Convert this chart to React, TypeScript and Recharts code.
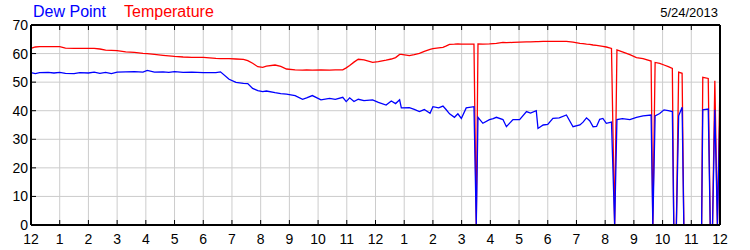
import { LineChart, Line, XAxis, YAxis, CartesianGrid } from 'recharts'

// hours since midnight
const hours = [
    0, 0.15, 0.3, 0.6, 0.8, 1.0, 1.2, 1.5, 1.7, 2.0,
    2.2, 2.4, 2.6, 2.8, 3.0, 3.3, 3.6, 3.9, 4.05, 4.3,
    4.6, 4.8, 5.0, 5.3, 5.6, 6.0, 6.44, 6.6, 6.9, 7.14,
    7.4, 7.55, 7.72, 7.9, 8.07, 8.2, 8.5, 8.7, 8.9, 9.2,
    9.46, 9.6, 9.8, 10.1, 10.4, 10.6, 10.86, 10.98, 11.1, 11.25,
    11.4, 11.6, 11.9, 12.1, 12.37, 12.55, 12.7, 12.84, 12.9, 13.18,
    13.35, 13.53, 13.7, 13.9, 14.0, 14.2, 14.35, 14.45, 14.58, 14.75,
    14.87, 14.99, 15.16, 15.43, 15.51, 15.57, 15.74, 15.97, 16.1, 16.21,
    16.44, 16.56, 16.79, 17.02, 17.26, 17.4, 17.6, 17.66, 17.84, 18.0,
    18.18, 18.4, 18.65, 18.88, 19.12, 19.23, 19.35, 19.46, 19.58, 19.7,
    19.81, 19.92, 20.04, 20.22, 20.33, 20.41, 20.6, 20.86, 21.09, 21.32,
    21.6, 21.66, 21.74, 21.9, 22.05, 22.2, 22.34, 22.39, 22.48, 22.56,
    22.68, 22.74, 23.36, 23.4, 23.59, 23.66, 23.74, 23.82, 23.91, 24,
]

const temperature = [
    61.8, 62.3, 62.4, 62.4, 62.4, 62.4, 61.9, 61.8, 61.8, 61.8,
    61.8, 61.6, 61.2, 61.1, 61.0, 60.6, 60.4, 60.1, 60.0, 59.7,
    59.4, 59.2, 59.0, 58.8, 58.7, 58.7, 58.3, 58.2, 58.2, 58.1,
    58.0, 57.5, 56.6, 55.4, 55.2, 55.6, 56.0, 55.5, 54.6, 54.3,
    54.2, 54.3, 54.2, 54.3, 54.2, 54.3, 54.3, 55.0, 55.8, 57.0,
    58.0, 57.8, 56.9, 57.2, 57.7, 58.1, 58.6, 59.7, 59.7, 59.3,
    59.6, 60.1, 60.8, 61.5, 61.7, 62.0, 62.2, 62.6, 63.2, 63.3,
    63.4, 63.3, 63.3, 63.3, 0, 63.4, 63.3, 63.4, 63.5, 63.6,
    63.9, 63.8, 63.9, 64.0, 64.1, 64.1, 64.2, 64.2, 64.3, 64.3,
    64.3, 64.3, 64.3, 64.0, 63.6, 63.5, 63.3, 63.2, 63.0, 62.9,
    62.7, 62.5, 62.3, 61.8, 0, 61.3, 60.6, 59.6, 58.6, 58.2,
    57.4, 0, 56.9, 56.6, 56.0, 55.4, 54.8, 0, 0, 53.5,
    53.1, 0, 0, 51.7, 51.3, 0, 0, 50.5, 0, 50.7,
]

const dewPoint = [
    53.3, 53.0, 53.3, 53.4, 53.2, 53.4, 53.1, 53.0, 53.3, 53.2,
    53.5, 53.1, 53.4, 53.0, 53.5, 53.6, 53.7, 53.5, 54.1, 53.5,
    53.6, 53.4, 53.7, 53.4, 53.5, 53.3, 53.3, 53.6, 51.0, 49.9,
    49.6, 49.5, 47.8, 47.0, 46.7, 46.9, 46.3, 46.0, 45.8, 45.3,
    44.0, 44.5, 45.3, 43.8, 44.3, 44.0, 44.7, 43.2, 44.5, 43.2,
    44.0, 43.5, 43.8, 42.9, 42.0, 43.4, 42.5, 43.8, 41.0, 41.1,
    40.5, 39.7, 40.4, 39.1, 41.4, 41.0, 41.6, 40.5, 38.9, 37.7,
    38.9, 37.3, 41.0, 41.4, 0, 37.7, 35.6, 36.9, 37.2, 37.7,
    36.9, 34.4, 36.9, 36.9, 39.7, 39.2, 40.0, 33.8, 35.0, 35.2,
    37.3, 37.5, 38.5, 34.4, 35.0, 36.0, 37.5, 36.5, 34.4, 34.5,
    37.0, 37.3, 35.6, 36.0, 0, 36.9, 37.2, 36.9, 37.7, 38.2,
    38.5, 0, 38.2, 39.0, 40.3, 40.0, 39.7, 0, 0, 38.2,
    41.2, 0, 0, 40.3, 40.6, 0, 0, 40.3, 0, 40.8,
]

const hourTicks = [0, 1, 2, 3, 4, 5, 6, 7, 8, 9, 10, 11, 12, 13, 14, 15, 16, 17, 18, 19, 20, 21, 22, 23, 24]
const valueTicks = [0, 10, 20, 30, 40, 50, 60, 70]

const data = hours.map((h, i) => ({ h, temp: temperature[i], dew: dewPoint[i] }))

const FONT = '"Liberation Sans", Arial, sans-serif'
const TICK = { fontSize: 14, fill: '#000', fontFamily: FONT }
const AXIS_LINE = { stroke: '#000', strokeWidth: 2 }

const hourLabel = (h: number) => String(h % 12 === 0 ? 12 : h % 12)

export default function App() {
    return (
        <div style={{ position: 'absolute', left: 0, top: 0, width: 750, height: 250, background: '#fff', fontFamily: FONT }}>
            <div style={{ position: 'absolute', left: 33, top: 3, fontSize: 16, color: '#0000ff' }}>Dew Point</div>
            <div style={{ position: 'absolute', left: 124, top: 3, fontSize: 16, color: '#ff0000' }}>Temperature</div>
            <div style={{ position: 'absolute', right: 32, top: 5, fontSize: 13, color: '#000' }}>5/24/2013</div>
            <LineChart width={750} height={250} data={data} margin={{ top: 24, right: 0, bottom: 0, left: 0 }}>
                <CartesianGrid stroke="#cccccc" />
                <XAxis
                    dataKey="h" type="number" domain={[0, 24]} ticks={hourTicks}
                    tickFormatter={hourLabel} height={25}
                    tick={TICK} tickSize={-5} tickMargin={14}
                    axisLine={AXIS_LINE} tickLine={{ stroke: '#000' }}
                />
                <XAxis
                    xAxisId="top" orientation="top" dataKey="h" type="number" domain={[0, 24]}
                    ticks={hourTicks} height={1} tick={() => <g />} tickSize={-5}
                    axisLine={AXIS_LINE} tickLine={{ stroke: '#000' }}
                />
                <YAxis
                    domain={[0, 70]} ticks={valueTicks} width={31}
                    tick={TICK} tickSize={-5} tickMargin={8}
                    axisLine={AXIS_LINE} tickLine={{ stroke: '#000' }}
                />
                <YAxis
                    yAxisId="right" orientation="right" domain={[0, 70]} ticks={valueTicks} width={30}
                    tick={TICK} tickSize={-5} tickMargin={11}
                    axisLine={AXIS_LINE} tickLine={{ stroke: '#000' }}
                />
                <Line dataKey="temp" type="linear" stroke="#ff0000" strokeWidth={1.3} dot={false} isAnimationActive={false} />
                <Line dataKey="dew" type="linear" stroke="#0000ff" strokeWidth={1.3} dot={false} isAnimationActive={false} />
            </LineChart>
        </div>
    )
}
